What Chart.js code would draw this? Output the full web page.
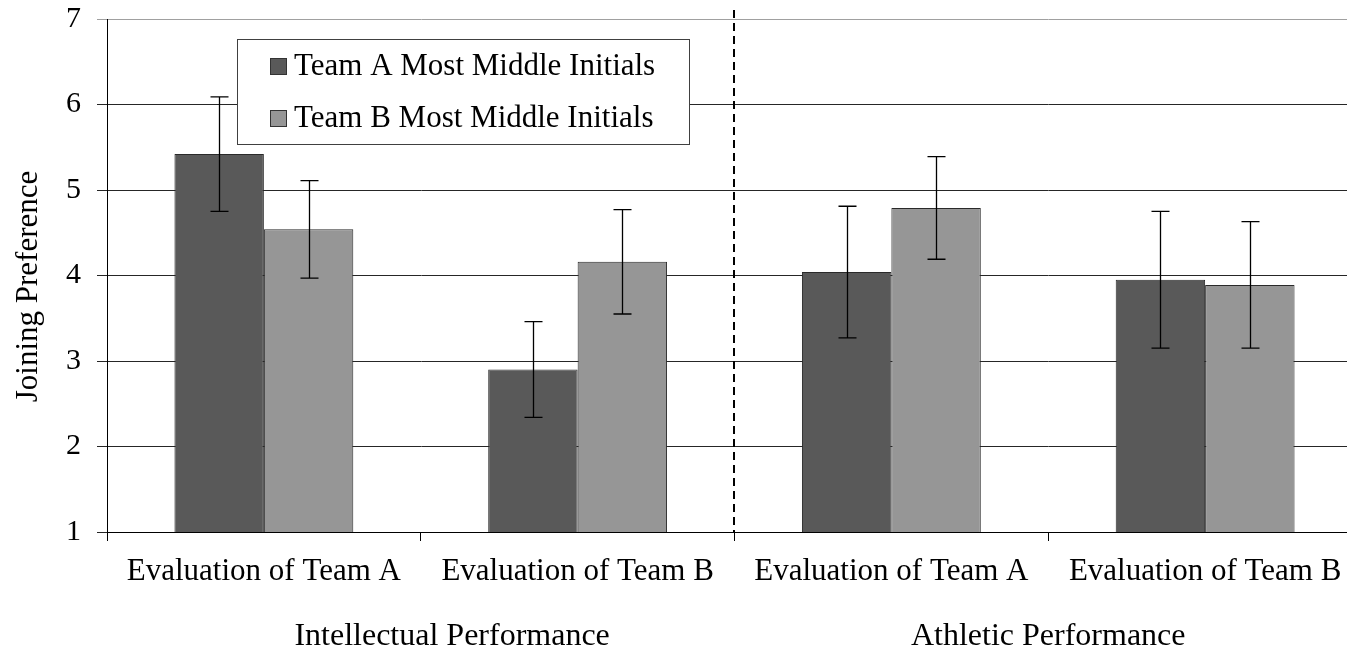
<!DOCTYPE html>
<html>
<head>
<meta charset="utf-8">
<script src="https://cdn.jsdelivr.net/npm/chart.js@4/dist/chart.umd.min.js"></script>
<style>
  html, body { margin: 0; padding: 0; background: #fff; overflow: hidden; }
  #wrap { width: 1365px; height: 652px; }
</style>
</head>
<body>
<div id="wrap"><canvas id="c" width="1365" height="652"></canvas></div>
<script>
// Categories and group headings
const categories = ['Evaluation of Team A', 'Evaluation of Team B', 'Evaluation of Team A', 'Evaluation of Team B'];
const groupLabels = ['Intellectual Performance', 'Athletic Performance'];
const yTitle = 'Joining Preference';

// Series: mean joining preference
const seriesNames = ['Team A Most Middle Initials', 'Team B Most Middle Initials'];
const teamAMeans = [5.42, 2.90, 4.04, 3.95];
const teamBMeans = [4.54, 4.16, 4.79, 3.89];

// Error bar half-widths
const teamAErr = [0.67, 0.56, 0.77, 0.80];
const teamBErr = [0.57, 0.61, 0.60, 0.74];

// Value axis ticks
const yTicks = [1, 2, 3, 4, 5, 6, 7];

const serif = '"Liberation Serif", "Times New Roman", serif';

// Where the group headings sit, as category-index positions, and the divider position
const groupAt = [0.6, 2.5];
const dividerAt = 1.5;

const errorBars = {
  id: 'errorBars',
  afterDatasetsDraw(chart) {
    const ctx = chart.ctx;
    const y = chart.scales.y;
    const errs = [teamAErr, teamBErr];
    ctx.save();
    ctx.strokeStyle = '#000';
    ctx.lineWidth = 1.3;
    chart.data.datasets.forEach((ds, di) => {
      const meta = chart.getDatasetMeta(di);
      meta.data.forEach((bar, i) => {
        const v = ds.data[i], e = errs[di][i];
        const x = Math.round(bar.x) + 0.5;
        const yt = y.getPixelForValue(v + e), yb = y.getPixelForValue(v - e);
        ctx.beginPath();
        ctx.moveTo(x, yt); ctx.lineTo(x, yb);
        ctx.moveTo(x - 9, yt); ctx.lineTo(x + 9, yt);
        ctx.moveTo(x - 9, yb); ctx.lineTo(x + 9, yb);
        ctx.stroke();
      });
    });
    ctx.restore();
  }
};

const divider = {
  id: 'divider',
  afterDatasetsDraw(chart) {
    const ctx = chart.ctx, a = chart.chartArea;
    const x = Math.round(chart.scales.x.getPixelForValue(dividerAt)) - 1;
    ctx.save();
    ctx.strokeStyle = '#000';
    ctx.lineWidth = 2;
    ctx.setLineDash([8, 5]);
    ctx.beginPath();
    ctx.moveTo(x, a.top - 9);
    ctx.lineTo(x, a.bottom);
    ctx.stroke();
    ctx.restore();
  }
};

const boxLegend = {
  id: 'boxLegend',
  afterDatasetsDraw(chart) {
    const ctx = chart.ctx, a = chart.chartArea;
    const left = Math.round(a.left) + 130, top = Math.round(a.top) + 20, w = 452, h = 105;
    ctx.save();
    ctx.fillStyle = '#fff';
    ctx.fillRect(left, top, w, h);
    ctx.strokeStyle = '#404040';
    ctx.lineWidth = 1;
    ctx.strokeRect(left + 0.5, top + 0.5, w, h);
    ctx.font = '31px ' + serif;
    ctx.textBaseline = 'middle';
    ctx.textAlign = 'left';
    chart.data.datasets.forEach((ds, i) => {
      const cy = top + 27 + i * 52;
      ctx.fillStyle = ds.backgroundColor;
      ctx.fillRect(left + 33, cy - 8, 16, 16);
      ctx.strokeStyle = '#333';
      ctx.strokeRect(left + 33.5, cy - 7.5, 16, 16);
      ctx.fillStyle = '#000';
      ctx.fillText(ds.label, left + 57, cy + 1);
    });
    ctx.restore();
  }
};

const outerLabels = {
  id: 'outerLabels',
  afterDraw(chart) {
    const ctx = chart.ctx, xs = chart.scales.x, a = chart.chartArea;
    ctx.save();
    ctx.fillStyle = '#000';
    // group headings under the category labels
    ctx.font = '32px ' + serif;
    ctx.textAlign = 'center';
    ctx.textBaseline = 'alphabetic';
    groupLabels.forEach((g, i) => {
      ctx.fillText(g, xs.getPixelForValue(groupAt[i]), 645);
    });
    // value axis title, rotated
    ctx.font = '31px ' + serif;
    ctx.translate(37, (a.top + a.bottom) / 2 + 11);
    ctx.rotate(-Math.PI / 2);
    ctx.fillText(yTitle, 0, 0);
    ctx.restore();
  }
};

new Chart(document.getElementById('c'), {
  type: 'bar',
  data: {
    labels: categories,
    datasets: [
      { label: seriesNames[0], data: teamAMeans, backgroundColor: '#595959', borderColor: '#2a2a2a', borderWidth: 1 },
      { label: seriesNames[1], data: teamBMeans, backgroundColor: '#969696', borderColor: '#2a2a2a', borderWidth: 1 }
    ]
  },
  options: {
    responsive: false,
    animation: false,
    devicePixelRatio: 1,
    categoryPercentage: 0.57,
    barPercentage: 1.0,
    layout: { padding: { top: 19, right: 3, left: 0, bottom: 0 } },
    plugins: {
      legend: { display: false },
      tooltip: { enabled: false },
      title: { display: false }
    },
    scales: {
      x: {
        offset: true,
        afterFit(s) { s.height = 120; },
        grid: {
          offset: true,
          drawOnChartArea: false,
          drawTicks: true,
          tickLength: 9,
          color: '#000',
          lineWidth: 1
        },
        border: { color: '#000', width: 1 },
        ticks: {
          color: '#000',
          font: { family: serif, size: 31 },
          padding: 12,
          maxRotation: 0,
          autoSkip: false
        }
      },
      y: {
        min: yTicks[0],
        max: yTicks[yTicks.length - 1],
        afterFit(s) { s.width = 107; s.paddingTop = 0; s.paddingBottom = 0; },
        afterBuildTicks(s) { s.ticks = yTicks.map(v => ({ value: v })); },
        grid: {
          color: c => (c.tick && c.tick.value === 7) ? '#a0a0a0' : '#262626',
          lineWidth: 1,
          tickLength: 10
        },
        border: { color: '#000', width: 1 },
        ticks: {
          color: '#000',
          font: { family: serif, size: 30 },
          padding: 16
        }
      }
    }
  },
  plugins: [errorBars, divider, boxLegend, outerLabels]
});
</script>
</body>
</html>
